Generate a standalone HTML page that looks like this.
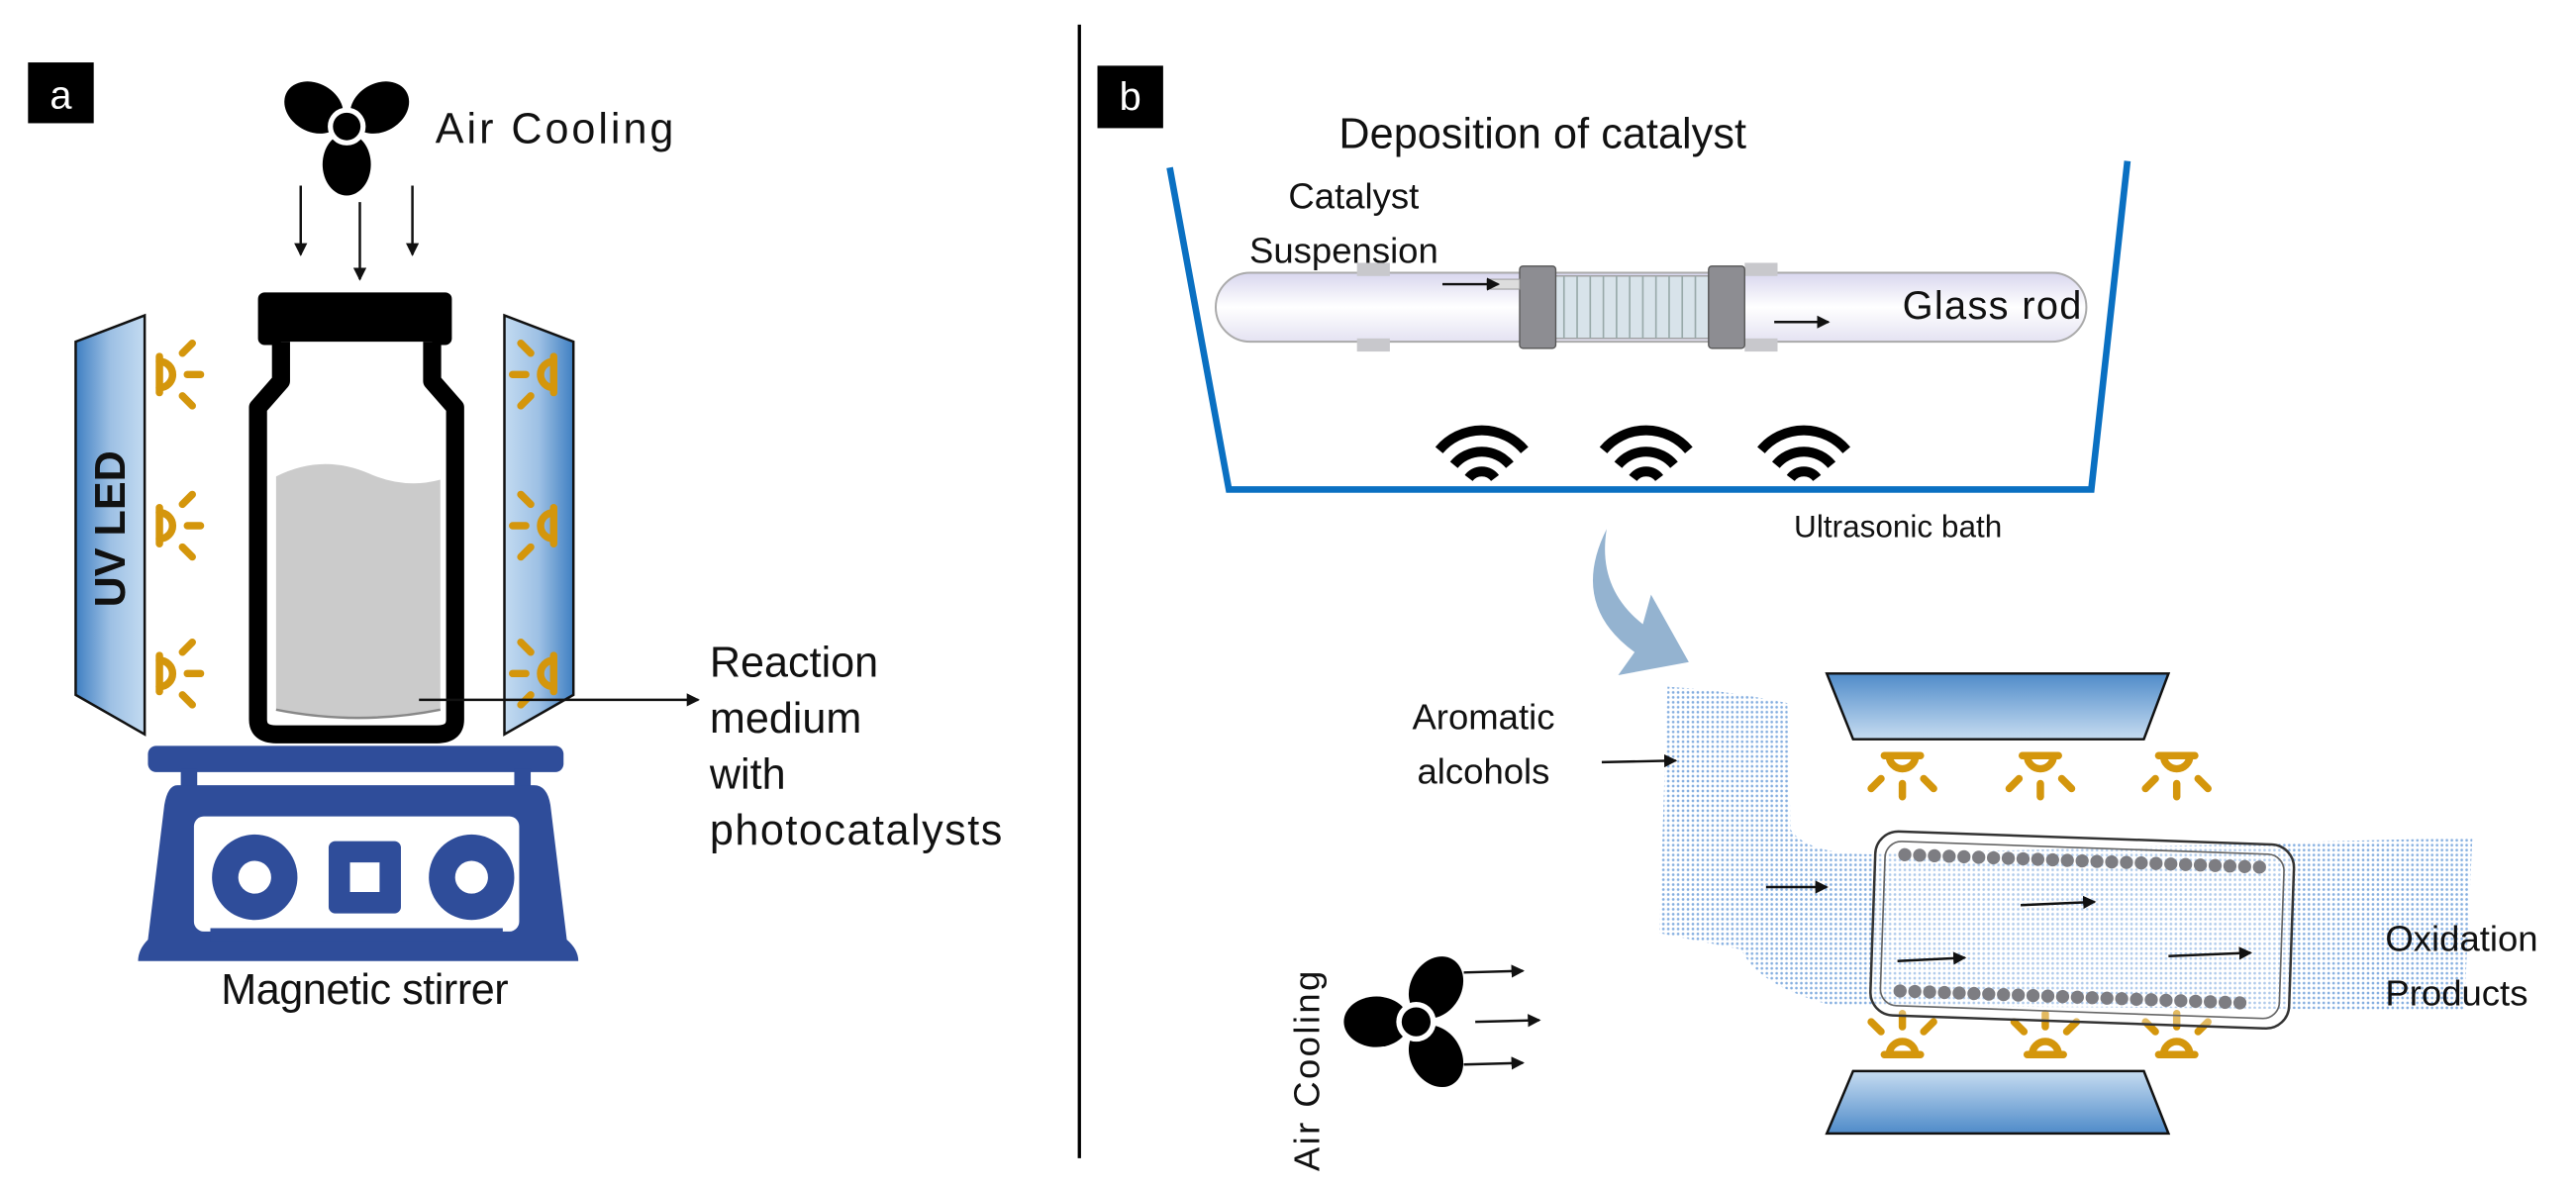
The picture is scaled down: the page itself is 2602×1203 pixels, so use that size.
<!DOCTYPE html>
<html><head><meta charset="utf-8"><style>
html,body{margin:0;padding:0;background:#fff;}
svg{display:block;}
text{font-family:"Liberation Sans",sans-serif;fill:#111;}
</style></head><body>
<svg width="2602" height="1203" viewBox="0 0 1568 725" xmlns="http://www.w3.org/2000/svg">
<defs>
<linearGradient id="pl" x1="0" y1="0" x2="1" y2="0"><stop offset="0" stop-color="#3f7fc2"/><stop offset="0.5" stop-color="#9dc0e4"/><stop offset="1" stop-color="#c3dbf1"/></linearGradient>
<linearGradient id="pr" x1="1" y1="0" x2="0" y2="0"><stop offset="0" stop-color="#3f7fc2"/><stop offset="0.5" stop-color="#9dc0e4"/><stop offset="1" stop-color="#c3dbf1"/></linearGradient>
<linearGradient id="pt" x1="0" y1="0" x2="0" y2="1"><stop offset="0" stop-color="#4f8bc9"/><stop offset="1" stop-color="#c6dcf1"/></linearGradient>
<linearGradient id="pb" x1="0" y1="1" x2="0" y2="0"><stop offset="0" stop-color="#4f8bc9"/><stop offset="1" stop-color="#c6dcf1"/></linearGradient>
<linearGradient id="rod" x1="0" y1="0" x2="0" y2="1"><stop offset="0" stop-color="#d8d6ee"/><stop offset="0.5" stop-color="#ffffff"/><stop offset="1" stop-color="#e4e2f2"/></linearGradient>
<pattern id="dots" width="3" height="3" patternUnits="userSpaceOnUse"><circle cx="1.5" cy="1.5" r="0.8" fill="#5b93d6"/></pattern>
<marker id="ah" markerWidth="8" markerHeight="8" refX="7" refY="4" orient="auto" markerUnits="userSpaceOnUse"><path d="M0,0 L8,4 L0,8 Z" fill="#111"/></marker>
<g id="sun" fill="none" stroke="#d4960c" stroke-width="4.5" stroke-linecap="round">
<line x1="0" y1="-11" x2="0" y2="11"/><path d="M0,-8 A8,8 0 0 1 0,8"/>
<line x1="14" y1="-13" x2="20" y2="-19"/><line x1="17" y1="0" x2="25" y2="0"/><line x1="14" y1="13" x2="20" y2="19"/>
</g>
<g id="wifi" fill="none" stroke="#000" stroke-width="6">
<path d="M-26,-8 A34,34 0 0 1 26,-8"/><path d="M-17,1 A22,22 0 0 1 17,1"/><path d="M-8,9 A10,10 0 0 1 8,9"/>
</g>
<g id="fan" fill="#000">
<ellipse cx="0" cy="-22" rx="14" ry="18"/><ellipse cx="0" cy="-22" rx="14" ry="18" transform="rotate(120)"/><ellipse cx="0" cy="-22" rx="14" ry="18" transform="rotate(240)"/>
<circle r="11" fill="#fff"/><circle r="8"/>
</g>
</defs>

<line x1="657" y1="15" x2="657" y2="705" stroke="#000" stroke-width="2"/>

<!-- panel a -->
<rect x="17" y="38" width="40" height="37" fill="#000"/>
<text x="37" y="66" text-anchor="middle" style="fill:#fff" font-size="24">a</text>
<use href="#fan" transform="translate(211,77) rotate(180) scale(1.05)"/>
<text x="265" y="87" font-size="26" textLength="145">Air Cooling</text>
<line x1="183" y1="113" x2="183" y2="155" stroke="#111" stroke-width="1.5" marker-end="url(#ah)"/>
<line x1="219" y1="123" x2="219" y2="170" stroke="#111" stroke-width="1.5" marker-end="url(#ah)"/>
<line x1="251" y1="113" x2="251" y2="155" stroke="#111" stroke-width="1.5" marker-end="url(#ah)"/>

<polygon points="46,208 88,192 88,447 46,423" fill="url(#pl)" stroke="#111" stroke-width="1.5"/>
<text transform="translate(76,322) rotate(-90)" text-anchor="middle" font-size="26" font-weight="bold">UV LED</text>
<polygon points="307,192 349,208 349,423 307,447" fill="url(#pr)" stroke="#111" stroke-width="1.5"/>
<use href="#sun" transform="translate(97,228)"/><use href="#sun" transform="translate(97,320)"/><use href="#sun" transform="translate(97,410)"/>
<use href="#sun" transform="translate(337,228) scale(-1,1)"/><use href="#sun" transform="translate(337,320) scale(-1,1)"/><use href="#sun" transform="translate(337,410) scale(-1,1)"/>

<rect x="157" y="178" width="118" height="32" rx="4" fill="#000"/>
<path d="M171,208 L171,232 L157,248 L157,438 Q157,447 168,447 L266,447 Q277,447 277,438 L277,248 L263,232 L263,208" fill="#fff" stroke="#000" stroke-width="11" stroke-linejoin="round"/>
<path d="M168,290 Q196,276 224,288 Q246,298 268,292 L268,432 Q218,442 168,432 Z" fill="#cbcbcb"/>
<path d="M168,432 Q218,442 268,432" fill="none" stroke="#888" stroke-width="1.5"/>
<line x1="255" y1="426" x2="425" y2="426" stroke="#111" stroke-width="1.5" marker-end="url(#ah)"/>
<text font-size="26"><tspan x="432" y="412">Reaction</tspan><tspan x="432" y="446">medium</tspan><tspan x="432" y="480">with</tspan><tspan x="432" y="514" textLength="178">photocatalysts</tspan></text>

<g fill="#2f4d9a">
<rect x="90" y="454" width="253" height="16" rx="5"/>
<rect x="110" y="468" width="10" height="12"/><rect x="313" y="468" width="10" height="12"/>
<path d="M108,478 L325,478 Q333,478 335,490 L345,572 Q352,578 352,585 L84,585 Q84,578 90,572 L100,490 Q102,478 108,478 Z"/>
</g>
<rect x="118" y="497" width="198" height="70" rx="6" fill="#fff"/>
<g fill="#2f4d9a"><circle cx="155" cy="534" r="26"/><circle cx="287" cy="534" r="26"/><rect x="200" y="512" width="44" height="44" rx="4"/><rect x="128" y="565" width="178" height="8"/></g>
<g fill="#fff"><circle cx="155" cy="534" r="10"/><circle cx="287" cy="534" r="10"/><rect x="213" y="525" width="18" height="18"/></g>
<text x="222" y="611" text-anchor="middle" font-size="26" textLength="175">Magnetic stirrer</text>

<!-- panel b -->
<rect x="668" y="40" width="40" height="38" fill="#000"/>
<text x="688" y="67" text-anchor="middle" style="fill:#fff" font-size="24">b</text>
<text x="815" y="90" font-size="26" textLength="248">Deposition of catalyst</text>
<polyline points="712,102 748,298 1273,298 1295,98" fill="none" stroke="#0a70c2" stroke-width="4"/>
<text text-anchor="middle" font-size="22"><tspan x="824" y="127">Catalyst</tspan><tspan x="818" y="160">Suspension</tspan></text>
<rect x="740" y="166" width="530" height="42" rx="21" fill="url(#rod)" stroke="#aaa" stroke-width="1.2"/>
<g fill="#c8c8cc"><rect x="826" y="160" width="20" height="8"/><rect x="826" y="206" width="20" height="8"/><rect x="1062" y="160" width="20" height="8"/><rect x="1062" y="206" width="20" height="8"/></g>
<rect x="945" y="168" width="95" height="38" fill="#d8e3ea" stroke="#999" stroke-width="0.8"/>
<g stroke="#9aa" stroke-width="1"><line x1="952" y1="168" x2="952" y2="206"/><line x1="960" y1="168" x2="960" y2="206"/><line x1="968" y1="168" x2="968" y2="206"/><line x1="976" y1="168" x2="976" y2="206"/><line x1="984" y1="168" x2="984" y2="206"/><line x1="992" y1="168" x2="992" y2="206"/><line x1="1000" y1="168" x2="1000" y2="206"/><line x1="1008" y1="168" x2="1008" y2="206"/><line x1="1016" y1="168" x2="1016" y2="206"/><line x1="1024" y1="168" x2="1024" y2="206"/><line x1="1032" y1="168" x2="1032" y2="206"/></g>
<g fill="#8d8d92" stroke="#555" stroke-width="0.8"><rect x="925" y="162" width="22" height="50" rx="2"/><rect x="1040" y="162" width="22" height="50" rx="2"/></g>
<rect x="905" y="170" width="20" height="6" fill="#ddd" stroke="#999" stroke-width="0.6"/>
<line x1="878" y1="173" x2="912" y2="173" stroke="#111" stroke-width="1.5" marker-end="url(#ah)"/>
<line x1="1080" y1="196" x2="1113" y2="196" stroke="#111" stroke-width="1.5" marker-end="url(#ah)"/>
<text x="1158" y="194" font-size="24" textLength="109">Glass rod</text>
<use href="#wifi" transform="translate(902,282)"/><use href="#wifi" transform="translate(1002,282)"/><use href="#wifi" transform="translate(1098,282)"/>
<text x="1092" y="327" font-size="19">Ultrasonic bath</text>

<!-- curved arrow -->
<path d="M978,322 Q955,368 995,397 L985,411 L1028,403 L1005,362 L1000,380 Q972,358 978,322 Z" fill="#94b3d0"/>

<path d="M1015,418 Q1050,420 1088,428 L1090,505 Q1100,520 1140,520 L1420,512 L1505,510 L1500,615 L1115,612 Q1070,600 1060,578 L1010,568 Z" fill="url(#dots)" opacity="0.75"/>
<text text-anchor="middle" font-size="22"><tspan x="903" y="444">Aromatic</tspan><tspan x="903" y="477">alcohols</tspan></text>
<line x1="975" y1="464" x2="1020" y2="463" stroke="#111" stroke-width="1.5" marker-end="url(#ah)"/>

<polygon points="1112,410 1320,410 1305,450 1128,450" fill="url(#pt)" stroke="#111" stroke-width="1.5"/>
<polygon points="1128,652 1305,652 1320,690 1112,690" fill="url(#pb)" stroke="#111" stroke-width="1.5"/>
<use href="#sun" transform="translate(1158,460) rotate(90)"/><use href="#sun" transform="translate(1242,460) rotate(90)"/><use href="#sun" transform="translate(1325,460) rotate(90)"/>
<use href="#sun" transform="translate(1158,642) rotate(-90)"/><use href="#sun" transform="translate(1245,642) rotate(-90)"/><use href="#sun" transform="translate(1325,642) rotate(-90)"/>

<g transform="rotate(2 1265 565)">
<rect x="1140" y="510" width="255" height="112" rx="14" fill="#fff" fill-opacity="0.35" stroke="#333" stroke-width="1.5"/>
<rect x="1146" y="516" width="243" height="100" rx="10" fill="none" stroke="#666" stroke-width="1"/>
<g fill="#7d7d82">
<circle cx="1158" cy="524" r="4"/><circle cx="1167" cy="524" r="4"/><circle cx="1176" cy="524" r="4"/><circle cx="1185" cy="524" r="4"/><circle cx="1194" cy="524" r="4"/><circle cx="1203" cy="524" r="4"/><circle cx="1212" cy="524" r="4"/><circle cx="1221" cy="524" r="4"/><circle cx="1230" cy="524" r="4"/><circle cx="1239" cy="524" r="4"/><circle cx="1248" cy="524" r="4"/><circle cx="1257" cy="524" r="4"/><circle cx="1266" cy="524" r="4"/><circle cx="1275" cy="524" r="4"/><circle cx="1284" cy="524" r="4"/><circle cx="1293" cy="524" r="4"/><circle cx="1302" cy="524" r="4"/><circle cx="1311" cy="524" r="4"/><circle cx="1320" cy="524" r="4"/><circle cx="1329" cy="524" r="4"/><circle cx="1338" cy="524" r="4"/><circle cx="1347" cy="524" r="4"/><circle cx="1356" cy="524" r="4"/><circle cx="1365" cy="524" r="4"/><circle cx="1374" cy="524" r="4"/>
<circle cx="1158" cy="607" r="4"/><circle cx="1167" cy="607" r="4"/><circle cx="1176" cy="607" r="4"/><circle cx="1185" cy="607" r="4"/><circle cx="1194" cy="607" r="4"/><circle cx="1203" cy="607" r="4"/><circle cx="1212" cy="607" r="4"/><circle cx="1221" cy="607" r="4"/><circle cx="1230" cy="607" r="4"/><circle cx="1239" cy="607" r="4"/><circle cx="1248" cy="607" r="4"/><circle cx="1257" cy="607" r="4"/><circle cx="1266" cy="607" r="4"/><circle cx="1275" cy="607" r="4"/><circle cx="1284" cy="607" r="4"/><circle cx="1293" cy="607" r="4"/><circle cx="1302" cy="607" r="4"/><circle cx="1311" cy="607" r="4"/><circle cx="1320" cy="607" r="4"/><circle cx="1329" cy="607" r="4"/><circle cx="1338" cy="607" r="4"/><circle cx="1347" cy="607" r="4"/><circle cx="1356" cy="607" r="4"/><circle cx="1365" cy="607" r="4"/>
</g>
</g>
<g stroke="#111" stroke-width="1.5">
<line x1="1075" y1="540" x2="1112" y2="540" marker-end="url(#ah)"/>
<line x1="1230" y1="551" x2="1275" y2="549" marker-end="url(#ah)"/>
<line x1="1155" y1="585" x2="1196" y2="583" marker-end="url(#ah)"/>
<line x1="1320" y1="582" x2="1370" y2="580" marker-end="url(#ah)"/>
</g>
<text font-size="22"><tspan x="1452" y="579">Oxidation</tspan><tspan x="1452" y="612">Products</tspan></text>

<text transform="translate(803,652) rotate(-90)" text-anchor="middle" font-size="22" textLength="122">Air Cooling</text>
<use href="#fan" transform="translate(862,622) rotate(-90) scale(1.1)"/>
<g stroke="#111" stroke-width="1.5">
<line x1="891" y1="592" x2="927" y2="591" marker-end="url(#ah)"/>
<line x1="898" y1="622" x2="937" y2="621" marker-end="url(#ah)"/>
<line x1="891" y1="648" x2="927" y2="647" marker-end="url(#ah)"/>
</g>
</svg>
</body></html>
